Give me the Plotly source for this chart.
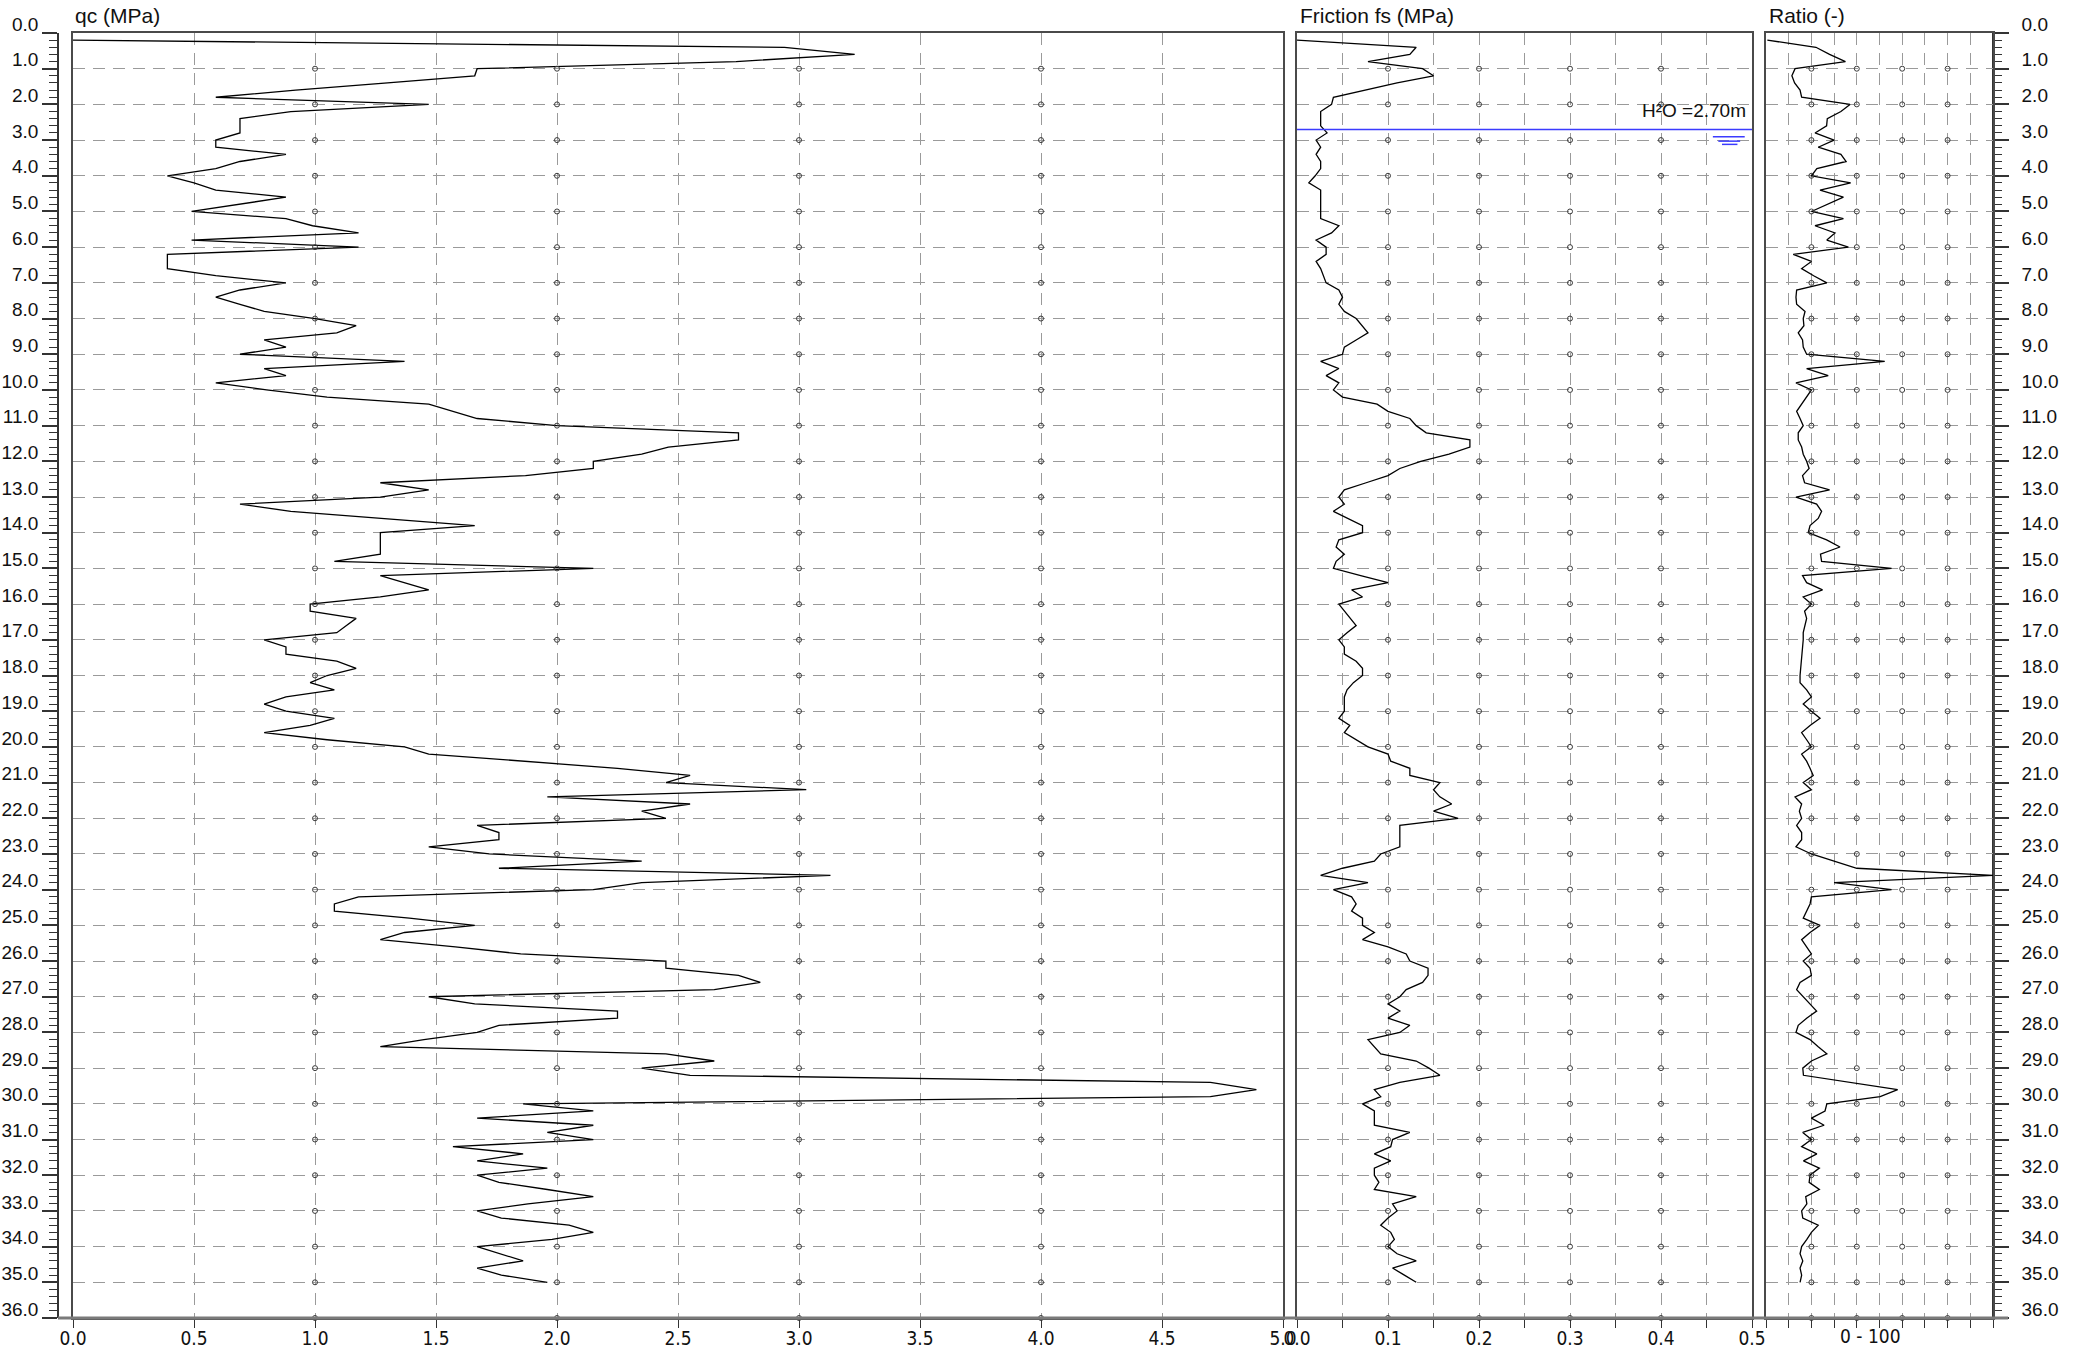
import plotly.graph_objects as go

W, H = 2078, 1351

# CPT sounding, one reading every 0.2 m from 0.2 m to 35.0 m (five readings per row = one metre)
qc = [
    0.00, 2.94, 3.23, 2.74, 1.67,
    1.66, 1.30, 0.92, 0.59, 1.47,
    0.90, 0.69, 0.69, 0.69, 0.59,
    0.59, 0.88, 0.69, 0.59, 0.39,
    0.50, 0.59, 0.88, 0.69, 0.49,
    0.88, 0.99, 1.18, 0.49, 1.18,
    0.39, 0.39, 0.39, 0.59, 0.88,
    0.69, 0.59, 0.69, 0.79, 1.00,
    1.17, 1.09, 0.79, 0.88, 0.69,
    1.37, 0.79, 0.88, 0.59, 0.80,
    1.05, 1.47, 1.57, 1.67, 2.00,
    2.75, 2.75, 2.46, 2.35, 2.15,
    2.15, 1.87, 1.27, 1.47, 1.27,
    0.69, 0.90, 1.28, 1.66, 1.27,
    1.27, 1.27, 1.27, 1.08, 2.15,
    1.27, 1.37, 1.47, 1.27, 0.98,
    0.98, 1.17, 1.13, 1.09, 0.79,
    0.88, 0.88, 1.09, 1.17, 1.05,
    0.98, 1.08, 0.88, 0.79, 0.88,
    1.08, 0.98, 0.79, 1.05, 1.37,
    1.47, 1.86, 2.25, 2.55, 2.45,
    3.03, 1.96, 2.55, 2.35, 2.45,
    1.67, 1.76, 1.76, 1.47, 1.72,
    2.35, 1.76, 3.13, 2.35, 2.15,
    1.18, 1.08, 1.08, 1.39, 1.66,
    1.37, 1.27, 1.58, 1.85, 2.45,
    2.45, 2.75, 2.84, 2.65, 1.47,
    1.66, 2.25, 2.25, 1.76, 1.67,
    1.45, 1.27, 2.45, 2.65, 2.35,
    2.55, 4.70, 4.89, 4.70, 1.86,
    2.15, 1.67, 2.15, 1.96, 2.15,
    1.57, 1.86, 1.67, 1.96, 1.67,
    1.76, 1.96, 2.15, 1.88, 1.67,
    1.77, 2.05, 2.15, 1.98, 1.67,
    1.77, 1.86, 1.67, 1.77, 1.96,
]

fs = [
    0.000, 0.131, 0.124, 0.078, 0.138,
    0.150, 0.110, 0.075, 0.040, 0.038,
    0.026, 0.026, 0.026, 0.033, 0.021,
    0.026, 0.021, 0.026, 0.026, 0.020,
    0.013, 0.026, 0.026, 0.026, 0.026,
    0.026, 0.046, 0.038, 0.021, 0.032,
    0.032, 0.021, 0.026, 0.029, 0.032,
    0.046, 0.050, 0.046, 0.052, 0.065,
    0.071, 0.078, 0.065, 0.052, 0.050,
    0.026, 0.046, 0.032, 0.046, 0.040,
    0.050, 0.088, 0.100, 0.124, 0.131,
    0.142, 0.190, 0.190, 0.167, 0.136,
    0.113, 0.100, 0.076, 0.052, 0.046,
    0.052, 0.040, 0.056, 0.072, 0.072,
    0.046, 0.043, 0.052, 0.043, 0.040,
    0.070, 0.100, 0.060, 0.072, 0.046,
    0.052, 0.058, 0.065, 0.055, 0.046,
    0.052, 0.052, 0.065, 0.072, 0.072,
    0.062, 0.055, 0.052, 0.052, 0.052,
    0.046, 0.058, 0.052, 0.065, 0.078,
    0.100, 0.103, 0.124, 0.124, 0.157,
    0.150, 0.157, 0.170, 0.150, 0.177,
    0.113, 0.113, 0.113, 0.113, 0.092,
    0.085, 0.050, 0.026, 0.078, 0.040,
    0.060, 0.065, 0.060, 0.072, 0.072,
    0.085, 0.072, 0.100, 0.120, 0.124,
    0.144, 0.144, 0.138, 0.120, 0.113,
    0.100, 0.113, 0.100, 0.124, 0.113,
    0.078, 0.085, 0.092, 0.131, 0.145,
    0.157, 0.113, 0.085, 0.092, 0.072,
    0.085, 0.085, 0.085, 0.124, 0.105,
    0.103, 0.085, 0.103, 0.085, 0.085,
    0.090, 0.085, 0.131, 0.105, 0.110,
    0.100, 0.092, 0.103, 0.107, 0.100,
    0.110, 0.131, 0.105, 0.118, 0.131,
]

ratio = [
    0.06, 2.20, 2.80, 3.50, 1.28,
    1.14, 1.26, 1.50, 1.57, 3.70,
    3.30, 2.70, 2.67, 2.16, 3.00,
    2.30, 3.30, 3.53, 2.24, 2.00,
    3.73, 2.38, 3.41, 2.70, 2.00,
    3.41, 2.16, 3.04, 2.68, 3.63,
    1.20, 2.00, 1.57, 2.10, 2.68,
    1.35, 1.32, 1.35, 1.72, 1.64,
    1.67, 1.42, 1.61, 1.64, 1.79,
    5.23, 1.79, 2.74, 1.32, 2.00,
    1.79, 1.57, 1.35, 1.50, 1.64,
    1.42, 1.42, 1.57, 1.64, 1.79,
    1.90, 1.61, 1.70, 2.80, 1.32,
    2.23, 2.45, 2.30, 1.94, 1.86,
    2.67, 3.26, 2.40, 2.45, 5.53,
    1.61, 1.79, 2.49, 1.64, 2.00,
    1.70, 1.79, 1.70, 1.64, 1.64,
    1.61, 1.57, 1.57, 1.52, 1.50,
    1.50, 1.79, 2.00, 1.64, 2.00,
    2.38, 1.94, 1.57, 1.79, 2.00,
    1.57, 1.79, 1.94, 2.08, 1.64,
    2.00, 1.28, 1.57, 1.47, 1.57,
    1.35, 1.57, 1.57, 1.32, 2.00,
    3.00, 4.00, 10.0, 3.00, 5.53,
    2.00, 1.94, 1.79, 1.64, 2.38,
    1.94, 1.57, 1.79, 2.00, 1.64,
    1.94, 2.00, 1.50, 1.35, 1.64,
    1.94, 2.23, 1.79, 1.42, 1.32,
    1.94, 2.30, 2.68, 2.00, 1.62,
    1.65, 3.80, 5.80, 5.03, 2.68,
    2.60, 2.00, 2.56, 1.62, 2.00,
    1.57, 2.24, 1.65, 2.35, 1.94,
    1.90, 2.35, 1.75, 1.80, 1.57,
    1.62, 2.30, 2.00, 1.80, 1.57,
    1.50, 1.62, 1.50, 1.57, 1.50,
]

# sampling depths of the readings above
depth = [round(0.2 * (i + 1), 1) for i in range(len(qc))]

water_depth = 2.70
max_depth = 36

qc_ticks = [0.0, 0.5, 1.0, 1.5, 2.0, 2.5, 3.0, 3.5, 4.0, 4.5, 5.0]
fs_ticks = [0.0, 0.1, 0.2, 0.3, 0.4, 0.5]
ratio_label = "0 - 100"

titles = ["qc (MPa)", "Friction fs (MPa)", "Ratio (-)"]


def fx(p):
    return p / W


def fy(p):
    return 1 - p / H


y_dom = [fy(1318), fy(33)]
x_doms = [[fx(73), fx(1283)], [fx(1297), fx(1752)], [fx(1766), fx(1993)]]

FONT = "Liberation Sans, Arial, sans-serif"
NARROW = "Liberation Sans Narrow, Arial Narrow, DejaVu Sans Condensed, sans-serif"
GRID = dict(showgrid=True, gridcolor="#9a9a9a", gridwidth=1.2, griddash="12px,8px")
BORDER = dict(showline=True, mirror=True, linecolor="#4a4a4a", linewidth=2,
              zeroline=False, automargin=False)

fig = go.Figure()

curve = dict(mode="lines", line=dict(color="#000000", width=1.3),
             showlegend=False, hoverinfo="skip")
fig.add_trace(go.Scatter(x=qc, y=depth, xaxis="x", yaxis="y", **curve))
fig.add_trace(go.Scatter(x=fs, y=depth, xaxis="x2", yaxis="y2", **curve))
fig.add_trace(go.Scatter(x=ratio, y=depth, xaxis="x3", yaxis="y3", **curve))

# small circles at the main grid crossings
dot_cols = [[1, 2, 3, 4], [0.1, 0.2, 0.3, 0.4], [2, 4, 6, 8]]
for k, cols in enumerate(dot_cols):
    dx, dy = [], []
    for d in range(1, max_depth + 1):
        for c in cols:
            dx.append(c)
            dy.append(d)
    sfx = "" if k == 0 else str(k + 1)
    fig.add_trace(go.Scatter(
        x=dx, y=dy, xaxis="x" + sfx, yaxis="y" + sfx, mode="markers",
        marker=dict(symbol="circle-open", size=5, color="#3a3a3a", line=dict(width=1)),
        cliponaxis=False, showlegend=False, hoverinfo="skip"))

# placeholders so the two depth rulers are drawn
for ax in ["y4", "y5"]:
    fig.add_trace(go.Scatter(x=[None], y=[None], xaxis="x", yaxis=ax,
                             showlegend=False, hoverinfo="skip"))

tick_style = dict(ticks="outside", ticklen=8, tickwidth=1.3, tickcolor="#333333")
tick_font = dict(family=NARROW, size=19, color="#111111")

layout = dict(
    width=W, height=H, margin=dict(l=0, r=0, t=0, b=0, autoexpand=False),
    paper_bgcolor="white", plot_bgcolor="white", showlegend=False,
    font=dict(family=FONT, color="#111111"),
    xaxis=dict(domain=x_doms[0], range=[0, 5], anchor="y", tickvals=qc_ticks,
               tickformat=".1f", tickfont=tick_font, ticklabelstandoff=-6,
               **tick_style, **GRID, **BORDER),
    xaxis2=dict(domain=x_doms[1], range=[0, 0.5], anchor="y2", tickvals=fs_ticks,
                tickformat=".1f", tickfont=tick_font, ticklabelstandoff=-6,
                **tick_style, **GRID, **BORDER,
                minor=dict(dtick=0.05, tick0=0, ticks="outside", ticklen=8, tickwidth=1.3,
                           tickcolor="#333333", showgrid=True, gridcolor="#9a9a9a",
                           gridwidth=1.2, griddash="12px,8px")),
    xaxis3=dict(domain=x_doms[2], range=[0, 10], anchor="y3", dtick=1, tick0=0,
                showticklabels=False, **tick_style, **GRID, **BORDER),
)
for k in range(3):
    key = "yaxis" if k == 0 else "yaxis%d" % (k + 1)
    layout[key] = dict(domain=y_dom, range=[max_depth, 0],
                       anchor="x" if k == 0 else "x%d" % (k + 1),
                       dtick=1, tick0=0, ticks="", showticklabels=False, **GRID, **BORDER)

ruler = dict(overlaying="y", anchor="free", range=[max_depth, 0], dtick=1, tick0=0,
             tickformat=".1f", showgrid=False, zeroline=False, showline=True,
             linecolor="#333333", linewidth=1.5, ticks="outside", ticklen=15,
             tickwidth=1.5, tickcolor="#333333", ticklabelshift=9, automargin=False,
             tickfont=dict(family=FONT, size=19, color="#111111"),
             minor=dict(dtick=0.2, tick0=0, ticks="outside", ticklen=8, tickwidth=1.2,
                        tickcolor="#333333", showgrid=False))
layout["yaxis4"] = dict(position=fx(58), side="left", **ruler)
layout["yaxis5"] = dict(position=fx(1993), side="right", ticklabelstandoff=9, **ruler)

fig.update_layout(**layout)

# heavy base line under all three columns
fig.add_shape(type="line", xref="paper", yref="paper", x0=fx(58), x1=fx(2008),
              y0=y_dom[0], y1=y_dom[0], line=dict(color="#7a7a7a", width=3), layer="above")

# groundwater level
fig.add_shape(type="line", xref="x2", yref="y2", x0=0, x1=0.5, y0=water_depth, y1=water_depth,
              line=dict(color="#3b3bff", width=1.5), layer="above")
for off, a, b in [(0.21, 0.457, 0.492), (0.33, 0.463, 0.487), (0.42, 0.467, 0.484)]:
    fig.add_shape(type="line", xref="x2", yref="y2", x0=a, x1=b,
                  y0=water_depth + off, y1=water_depth + off,
                  line=dict(color="#3b3bff", width=1.5), layer="above")
fig.add_annotation(xref="x2", yref="y2", x=0.4956, y=water_depth - 0.54,
                   text="H²O =%.2fm" % water_depth, showarrow=False,
                   xanchor="right", yanchor="middle",
                   font=dict(family=FONT, size=19, color="#111111"))

# column headers
for t, xp in zip(titles, [73, 1298, 1767]):
    fig.add_annotation(xref="paper", yref="paper", x=fx(xp), y=fy(15), text=t,
                       showarrow=False, xanchor="left", yanchor="middle",
                       font=dict(family=FONT, size=21, color="#111111"))

fig.add_annotation(xref="paper", yref="paper", x=fx(1870), y=fy(1336), text=ratio_label,
                   showarrow=False, xanchor="center", yanchor="middle",
                   font=dict(family=NARROW, size=19, color="#111111"))

fig.write_html("out.html")
